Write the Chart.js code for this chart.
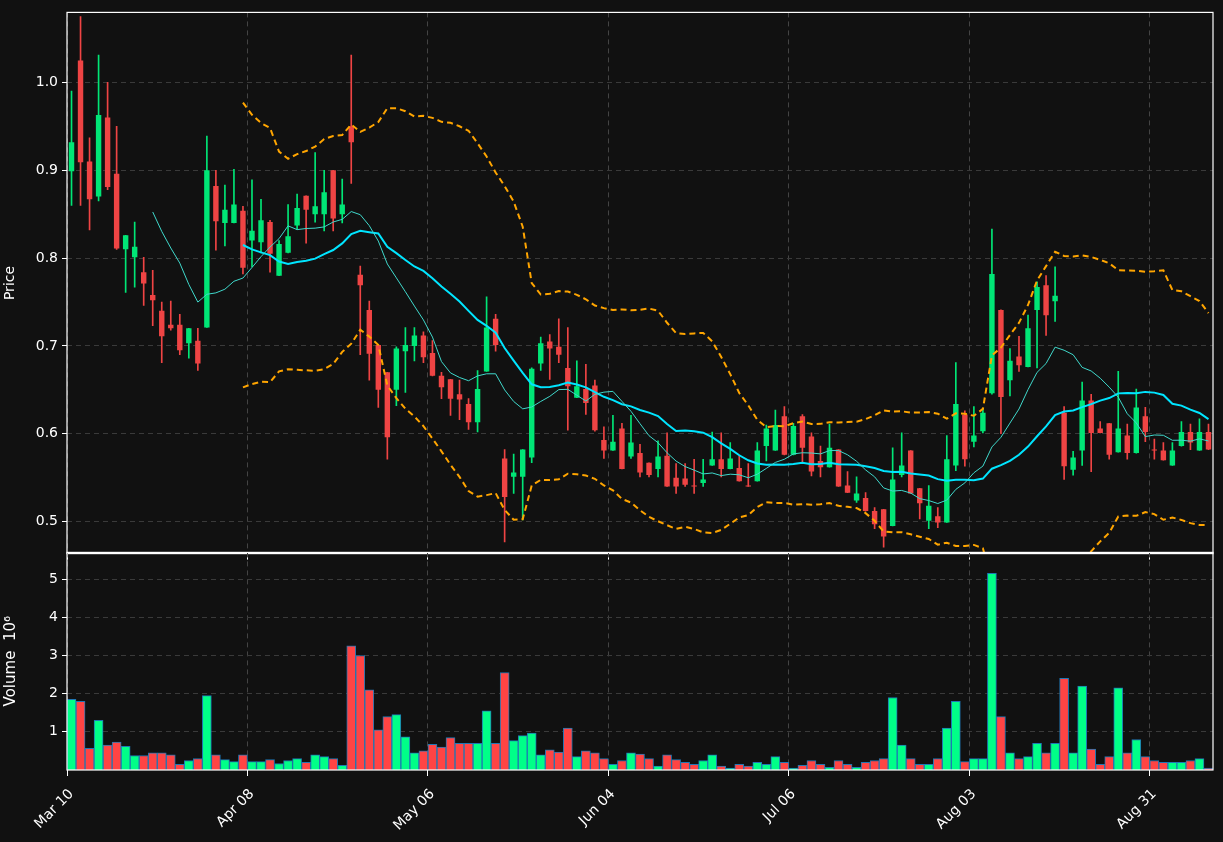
<!DOCTYPE html>
<html><head><meta charset="utf-8">
<script src="https://cdn.jsdelivr.net/npm/chart.js@4"></script>
<style>
html,body{margin:0;padding:0;background:#111111;}
#w{position:relative;width:1223px;height:842px;background:#111111;overflow:hidden;}
#c1{position:absolute;left:0;top:0;}
#c2{position:absolute;left:0;top:540px;}
</style></head><body>
<div id="w"><canvas id="c1" width="1223" height="566"></canvas><canvas id="c2" width="1223" height="302"></canvas></div>
<script>
const opens=[0.899,1.025,0.910,0.870,0.960,0.896,0.810,0.801,0.784,0.758,0.740,0.724,0.724,0.703,0.706,0.721,0.882,0.840,0.840,0.854,
0.820,0.818,0.841,0.780,0.806,0.837,0.871,0.850,0.850,0.900,0.850,0.950,0.781,0.741,0.701,0.670,0.650,0.694,0.700,0.712,
0.692,0.666,0.662,0.645,0.634,0.613,0.671,0.731,0.572,0.551,0.551,0.573,0.680,0.705,0.699,0.675,0.641,0.651,0.655,0.593,
0.581,0.606,0.574,0.578,0.567,0.560,0.575,0.550,0.549,0.541,0.544,0.564,0.571,0.560,0.561,0.541,0.546,0.586,0.581,0.620,
0.576,0.620,0.597,0.569,0.562,0.582,0.541,0.524,0.527,0.512,0.514,0.495,0.553,0.581,0.538,0.501,0.506,0.499,0.564,0.622,
0.591,0.603,0.646,0.741,0.661,0.688,0.676,0.741,0.769,0.751,0.624,0.559,0.581,0.638,0.606,0.612,0.579,0.598,0.578,0.620,
0.582,0.581,0.564,0.586,0.602,0.581,0.602];
const closes=[0.932,0.909,0.867,0.963,0.881,0.811,0.826,0.813,0.771,0.752,0.711,0.720,0.695,0.720,0.680,0.900,0.842,0.855,0.861,0.789,
0.831,0.843,0.805,0.816,0.825,0.857,0.855,0.859,0.875,0.845,0.861,0.932,0.769,0.691,0.650,0.596,0.697,0.701,0.712,0.687,
0.666,0.653,0.640,0.639,0.613,0.651,0.721,0.701,0.528,0.556,0.582,0.674,0.703,0.697,0.690,0.654,0.654,0.635,0.604,0.581,
0.591,0.560,0.590,0.556,0.553,0.574,0.540,0.540,0.542,0.540,0.548,0.571,0.560,0.572,0.546,0.540,0.581,0.606,0.610,0.576,
0.609,0.584,0.557,0.562,0.584,0.540,0.533,0.532,0.512,0.497,0.483,0.548,0.564,0.532,0.521,0.518,0.499,0.571,0.634,0.571,
0.598,0.624,0.782,0.642,0.683,0.678,0.720,0.767,0.735,0.757,0.563,0.573,0.638,0.601,0.601,0.576,0.606,0.578,0.630,0.602,
0.581,0.570,0.581,0.602,0.590,0.602,0.582];
const highs=[0.990,1.075,0.937,1.031,1.000,0.950,0.826,0.841,0.801,0.786,0.750,0.751,0.736,0.720,0.720,0.939,0.900,0.883,0.901,0.859,
0.889,0.867,0.843,0.820,0.861,0.873,0.871,0.920,0.900,0.900,0.890,1.031,0.791,0.751,0.701,0.670,0.699,0.721,0.721,0.716,
0.706,0.670,0.662,0.661,0.640,0.672,0.756,0.736,0.582,0.577,0.582,0.675,0.710,0.713,0.731,0.721,0.683,0.679,0.661,0.608,
0.621,0.612,0.621,0.588,0.567,0.592,0.601,0.566,0.566,0.571,0.571,0.602,0.601,0.590,0.575,0.566,0.590,0.610,0.627,0.631,
0.612,0.622,0.601,0.586,0.611,0.582,0.557,0.551,0.533,0.516,0.514,0.584,0.601,0.581,0.538,0.541,0.516,0.598,0.681,0.626,
0.631,0.629,0.833,0.741,0.697,0.711,0.735,0.773,0.780,0.790,0.631,0.580,0.659,0.645,0.614,0.612,0.671,0.611,0.651,0.630,
0.594,0.590,0.590,0.614,0.611,0.617,0.611];
const lows=[0.860,0.860,0.832,0.865,0.878,0.810,0.761,0.767,0.746,0.723,0.681,0.718,0.690,0.686,0.672,0.721,0.809,0.814,0.840,0.782,
0.790,0.806,0.784,0.780,0.806,0.833,0.817,0.841,0.831,0.831,0.840,0.885,0.690,0.661,0.630,0.571,0.632,0.647,0.683,0.681,
0.666,0.640,0.621,0.616,0.605,0.602,0.671,0.694,0.477,0.532,0.502,0.567,0.672,0.662,0.681,0.604,0.641,0.622,0.603,0.572,
0.581,0.560,0.572,0.551,0.551,0.551,0.540,0.532,0.540,0.532,0.540,0.564,0.551,0.560,0.546,0.540,0.546,0.569,0.581,0.576,
0.576,0.566,0.552,0.551,0.562,0.540,0.533,0.522,0.512,0.492,0.471,0.495,0.551,0.532,0.503,0.492,0.493,0.499,0.558,0.563,
0.585,0.601,0.645,0.600,0.643,0.671,0.676,0.675,0.712,0.728,0.548,0.553,0.564,0.557,0.601,0.571,0.579,0.571,0.578,0.591,
0.571,0.570,0.564,0.586,0.582,0.581,0.582];
const volumes=[1.85,1.8,0.57,1.3,0.65,0.73,0.62,0.38,0.38,0.45,0.45,0.4,0.15,0.25,0.3,1.95,0.4,0.27,0.22,0.4,
0.22,0.22,0.27,0.17,0.25,0.3,0.2,0.4,0.35,0.3,0.12,3.25,3.0,2.1,1.05,1.4,1.45,0.87,0.45,0.5,
0.67,0.6,0.85,0.7,0.7,0.7,1.55,0.7,2.55,0.77,0.9,0.97,0.4,0.53,0.47,1.1,0.35,0.5,0.45,0.3,
0.15,0.25,0.45,0.42,0.3,0.1,0.4,0.27,0.2,0.15,0.25,0.4,0.1,0.05,0.15,0.1,0.2,0.15,0.35,0.2,
0.05,0.12,0.25,0.15,0.07,0.25,0.15,0.07,0.2,0.25,0.3,1.9,0.65,0.3,0.15,0.15,0.3,1.1,1.8,0.22,
0.3,0.3,5.15,1.4,0.45,0.3,0.35,0.7,0.45,0.7,2.4,0.45,2.2,0.55,0.15,0.35,2.15,0.45,0.8,0.35,
0.25,0.2,0.2,0.2,0.25,0.3,0.05];
const tickIndex=[0,20,40,60,80,100,120];
const tickLabels=['Mar 10','Apr 08','May 06','Jun 04','Jul 06','Aug 03','Aug 31'];
const priceTicks=[0.5,0.6,0.7,0.8,0.9,1.0];
const volumeTicks=[1,2,3,4,5];

const cats=closes.map((_,i)=>String(i));
function sma(p){return closes.map((_,i)=>{if(i<p-1)return null;let s=0;for(let k=i-p+1;k<=i;k++)s+=closes[k];return s/p;});}
function band(p,m){const mid=sma(p);return closes.map((_,i)=>{if(i<p-1)return null;let s=0;for(let k=i-p+1;k<=i;k++)s+=(closes[k]-mid[i])**2;return mid[i]+m*2*Math.sqrt(s/p);});}
const GREEN='#00e676',RED='#ef4444';
const col=closes.map((c,i)=>c>=opens[i]?GREEN:RED);
const vcol=closes.map((c,i)=>c>=opens[i]?'#00ff88':'#ff4444');
Chart.defaults.font.family='DejaVu Sans';
Chart.defaults.color='#ffffff';
Chart.defaults.animation=false;
const frame={id:'frame',afterDraw(ch){const a=ch.chartArea,c=ch.ctx;c.save();c.strokeStyle='#ffffff';c.lineWidth=1.2;c.setLineDash([]);c.strokeRect(a.left,a.top,a.right-a.left,a.bottom-a.top);c.restore();}};
const xGrid={color:ctx=>tickIndex.includes(ctx.index)?'#444444':'transparent',tickColor:ctx=>tickIndex.includes(ctx.index)?'#ffffff':'transparent',lineWidth:1,tickLength:6};
const yGrid={color:'#3a3a3a',tickColor:'#ffffff',tickLength:5};

new Chart(document.getElementById('c1'),{
 data:{labels:cats,datasets:[
  {type:'line',data:sma(10),borderColor:'#40d9cc',borderWidth:1,pointRadius:0,order:1},
  {type:'line',data:sma(20),borderColor:'#00e5ff',borderWidth:2,pointRadius:0,order:1},
  {type:'line',data:band(20,1),borderColor:'#ffa500',borderWidth:2,borderDash:[6,4],pointRadius:0,order:1},
  {type:'line',data:band(20,-1),borderColor:'#ffa500',borderWidth:2,borderDash:[6,4],pointRadius:0,order:1},
  {type:'bar',data:lows.map((l,i)=>[l,highs[i]]),backgroundColor:col,barThickness:1,grouped:false,order:3},
  {type:'bar',data:opens.map((o,i)=>[o,closes[i]]),backgroundColor:col,barPercentage:0.6,categoryPercentage:1,grouped:false,minBarLength:1,order:2}
 ]},
 options:{responsive:false,layout:{padding:{top:12,right:10,left:0,bottom:0}},
  plugins:{legend:{display:false},tooltip:{enabled:false}},
  scales:{
   x:{type:'category',offset:true,ticks:{display:false},grid:xGrid,border:{display:false,dash:[5,4]},afterFit(s){s.height=0;}},
   y:{min:0.4636,max:1.0797,afterBuildTicks(s){s.ticks=priceTicks.map(v=>({value:v}));},
      ticks:{font:{size:14},color:'#ffffff',callback:v=>v.toFixed(1),padding:4},
      grid:yGrid,border:{display:false,dash:[5,4]},
      title:{display:true,text:'Price',font:{size:14},color:'#ffffff',padding:{top:2,bottom:8}},
      afterFit(s){s.width=67;}}
  }},
 plugins:[frame]
});

new Chart(document.getElementById('c2'),{
 type:'bar',
 data:{labels:cats,datasets:[{data:volumes,backgroundColor:vcol,borderColor:'#1f77b4',borderWidth:1,barPercentage:1,categoryPercentage:1}]},
 options:{responsive:false,layout:{padding:{top:0,right:10,left:0,bottom:0}},
  plugins:{legend:{display:false},tooltip:{enabled:false}},
  scales:{
   x:{offset:true,grid:xGrid,border:{display:false,dash:[5,4]},
      ticks:{autoSkip:false,maxRotation:45,minRotation:45,font:{size:14},color:'#ffffff',padding:10,
        callback:(v,i)=>{const k=tickIndex.indexOf(i);return k>=0?tickLabels[k]:'';}},
      afterFit(s){s.height=72;s.paddingRight=0;s.paddingLeft=0;}},
   y:{min:0,max:5.7,afterBuildTicks(s){s.ticks=volumeTicks.map(v=>({value:v}));},
      ticks:{font:{size:14},color:'#ffffff',padding:4},
      grid:yGrid,border:{display:false,dash:[5,4]},
      title:{display:true,text:'Volume  10⁶',font:{size:15},color:'#ffffff',padding:{top:2,bottom:6}},
      afterFit(s){s.width=67;}}
  }},
 plugins:[frame]
});
</script></body></html>
